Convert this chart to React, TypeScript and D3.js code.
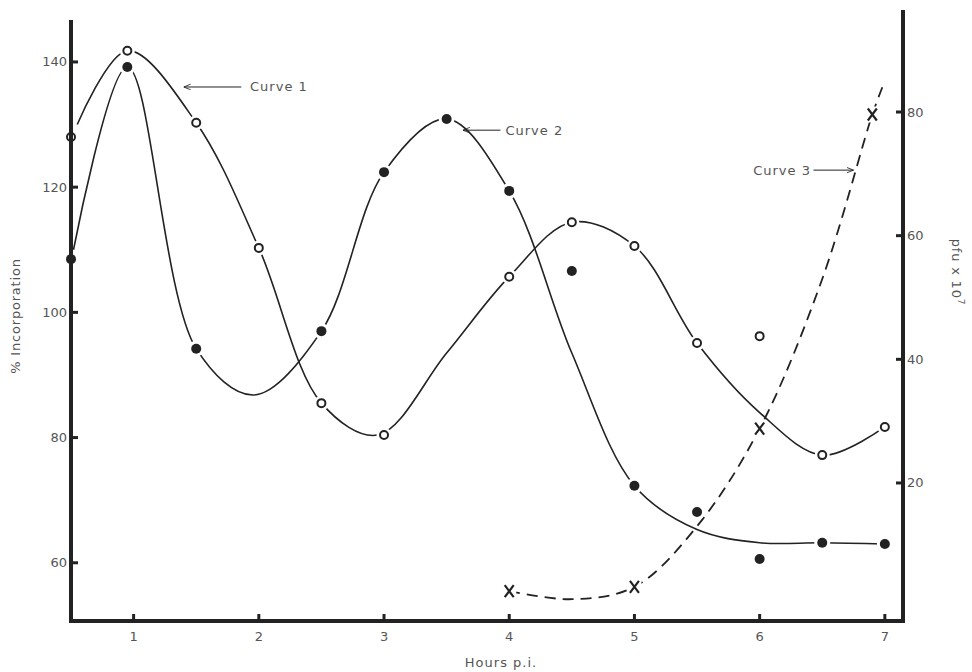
import React from "react";
import * as d3 from "d3";

// ---- data ----
const xTicks = [1, 2, 3, 4, 5, 6, 7];
const leftTicks = [60, 80, 100, 120, 140];
const rightTicks = [20, 40, 60, 80];

// Curve 1 (open circles, left axis)
const c1Hours = [0.5, 0.95, 1.5, 2, 2.5, 3, 4, 4.5, 5, 5.5, 6.5, 7];
const c1Values = [128, 141.8, 130.3, 110.3, 85.5, 80.4, 105.7, 114.4, 110.6, 95.1, 77.2, 81.7];
// Smoothed curve 1 path
const c1LineHours = [0.55, 0.95, 1.5, 2, 2.5, 2.95, 3.5, 4, 4.5, 5, 5.5, 6, 6.5, 7];
const c1LineValues = [130, 141.8, 130.3, 110.3, 85.5, 80.4, 93.5, 105.7, 114.4, 110.6, 95.1, 84, 77.2, 81.7];
// Outlier open circle
const c1ExtraHours = [6];
const c1ExtraValues = [96.2];

// Curve 2 (filled circles, left axis)
const c2Hours = [0.5, 0.95, 1.5, 2.5, 3, 3.5, 4, 4.5, 5, 5.5, 6, 6.5, 7];
const c2Values = [108.5, 139.2, 94.2, 97, 122.4, 130.9, 119.4, 106.6, 72.3, 68.1, 60.6, 63.2, 63];
const c2LineHours = [0.52, 0.95, 1.5, 1.96, 2.5, 3, 3.5, 4, 4.5, 5, 5.5, 6, 6.5, 7];
const c2LineValues = [110, 139.2, 94.2, 86.8, 97, 122.4, 130.9, 119.4, 93.5, 72.3, 65.3, 63.2, 63.2, 63];

// Curve 3 (crosses, right axis, pfu x 10^7)
const c3Hours = [4, 5, 6, 6.9];
const c3Values = [2.5, 3.2, 28.8, 79.6];
const c3LineHours = [4, 4.5, 5, 5.5, 6, 6.5, 6.9, 6.98];
const c3LineValues = [2.5, 1.2, 3.2, 13, 28.8, 53, 79.6, 84];

// annotations
const labels = [
  { text: "Curve 1", x: 1.93, y: 136, axis: "left", from: 1.86, to: 1.4, anchor: "start" },
  { text: "Curve 2", x: 3.97, y: 129.1, axis: "left", from: 3.93, to: 3.63, anchor: "start" },
  { text: "Curve 3", x: 6.41, y: 70.6, axis: "right", from: 6.43, to: 6.75, anchor: "end" },
];

const W = 972;
const H = 672;
const INK = "#222";
const TXT = "#555";
const FONT = "'DejaVu Sans', 'Open Sans', sans-serif";

export default function App() {
  const x = d3.scaleLinear().domain([0.5, 7.145]).range([71, 903]);
  const yL = d3.scaleLinear().domain([50.7, 146.7]).range([621, 20]);
  const yR = d3.scaleLinear().domain([-2, 96.5]).range([619, 10]);

  const lineL = d3
    .line<[number, number]>()
    .x((d) => x(d[0]))
    .y((d) => yL(d[1]))
    .curve(d3.curveCatmullRom.alpha(0.5));
  const lineR = d3
    .line<[number, number]>()
    .x((d) => x(d[0]))
    .y((d) => yR(d[1]))
    .curve(d3.curveCatmullRom.alpha(0.5));

  const zip = (a: number[], b: number[]) => a.map((v, i) => [v, b[i]] as [number, number]);

  const x0 = x.range()[0];
  const x1 = x.range()[1];
  const yBottom = yL.range()[0];

  return (
    <svg
      width={W}
      height={H}
      style={{ position: "absolute", left: 0, top: 0, background: "#fff" }}
      fontFamily={FONT}
    >
      <defs>
        <marker id="ah" viewBox="0 0 10 10" refX="10" refY="5" markerWidth="7" markerHeight="7" orient="auto-start-reverse">
          <path d="M0,1 L10,5 L0,9" fill="none" stroke={INK} strokeWidth={1.2} />
        </marker>
      </defs>
      <rect width={W} height={H} fill="#fff" />

      {/* curves */}
      <path d={lineL(zip(c1LineHours, c1LineValues)) || ""} fill="none" stroke={INK} strokeWidth={1.6} />
      <path d={lineL(zip(c2LineHours, c2LineValues)) || ""} fill="none" stroke={INK} strokeWidth={1.6} />
      <path
        d={lineR(zip(c3LineHours, c3LineValues)) || ""}
        fill="none"
        stroke={INK}
        strokeWidth={1.8}
        strokeDasharray="11 7"
      />

      {/* curve 1 markers */}
      {zip(c1Hours, c1Values)
        .concat(zip(c1ExtraHours, c1ExtraValues))
        .map((d, i) => (
          <g key={"c1" + i}>
            <circle cx={x(d[0])} cy={yL(d[1])} r={7.5} fill="#fff" />
            <circle cx={x(d[0])} cy={yL(d[1])} r={4} fill="#fff" stroke={INK} strokeWidth={2} />
          </g>
        ))}
      {/* curve 2 markers */}
      {zip(c2Hours, c2Values).map((d, i) => (
        <g key={"c2" + i}>
          <circle cx={x(d[0])} cy={yL(d[1])} r={8} fill="#fff" />
          <circle cx={x(d[0])} cy={yL(d[1])} r={5} fill={INK} />
        </g>
      ))}
      {/* curve 3 markers */}
      {zip(c3Hours, c3Values).map((d, i) => {
        const cx = x(d[0]);
        const cy = yR(d[1]);
        return (
          <g key={"c3" + i}>
            <rect x={cx - 7} y={cy - 8} width={14} height={16} fill="#fff" />
            <path
              d={`M${cx - 4.5},${cy - 6} L${cx + 4.5},${cy + 6} M${cx + 4.5},${cy - 6} L${cx - 4.5},${cy + 6}`}
              stroke={INK}
              strokeWidth={2.2}
            />
          </g>
        );
      })}

      {/* annotations */}
      {labels.map((l, i) => {
        const ys = l.axis === "left" ? yL(l.y) : yR(l.y);
        return (
          <g key={"lab" + i}>
            <line x1={x(l.from)} x2={x(l.to)} y1={ys} y2={ys} stroke={INK} strokeWidth={1} markerEnd="url(#ah)" />
            <text
              x={x(l.x)}
              y={ys + 4.5}
              fontSize={13}
              fill={TXT}
              letterSpacing={1}
              textAnchor={l.anchor}
            >
              {l.text}
            </text>
          </g>
        );
      })}

      {/* axes */}
      <line x1={x0} x2={x0} y1={20} y2={yBottom + 2} stroke={INK} strokeWidth={4} />
      <line x1={x0} x2={x1 + 2} y1={yBottom} y2={yBottom} stroke={INK} strokeWidth={4} />
      <line x1={x1} x2={x1} y1={10} y2={yBottom + 2} stroke={INK} strokeWidth={4} />

      {xTicks.map((t) => (
        <g key={"xt" + t}>
          <line x1={x(t)} x2={x(t)} y1={yBottom} y2={yBottom - 7} stroke={INK} strokeWidth={3} />
          <text x={x(t)} y={yBottom + 20} fontSize={13} fill={TXT} textAnchor="middle">
            {t}
          </text>
        </g>
      ))}
      {leftTicks.map((t) => (
        <g key={"lt" + t}>
          <line x1={x0} x2={x0 + 7} y1={yL(t)} y2={yL(t)} stroke={INK} strokeWidth={3} />
          <text x={x0 - 4} y={yL(t) + 4.5} fontSize={13} fill={TXT} textAnchor="end">
            {t}
          </text>
        </g>
      ))}
      {rightTicks.map((t) => (
        <g key={"rt" + t}>
          <line x1={x1} x2={x1 - 7} y1={yR(t)} y2={yR(t)} stroke={INK} strokeWidth={3} />
          <text x={x1 + 4} y={yR(t) + 4.5} fontSize={13} fill={TXT} textAnchor="start">
            {t}
          </text>
        </g>
      ))}

      {/* axis titles */}
      <text
        transform={`translate(20, 316) rotate(-90)`}
        fontSize={13}
        fill={TXT}
        textAnchor="middle"
        letterSpacing={0.8}
      >
        % Incorporation
      </text>
      <text x={501} y={667} fontSize={13} fill={TXT} textAnchor="middle" letterSpacing={1}>
        Hours p.i.
      </text>
      <text
        transform={`translate(952, 272) rotate(90)`}
        fontSize={13}
        fill={TXT}
        textAnchor="middle"
        letterSpacing={0.8}
      >
        pfu x 10
        <tspan dy={-6} fontSize={9}>
          7
        </tspan>
      </text>
    </svg>
  );
}
